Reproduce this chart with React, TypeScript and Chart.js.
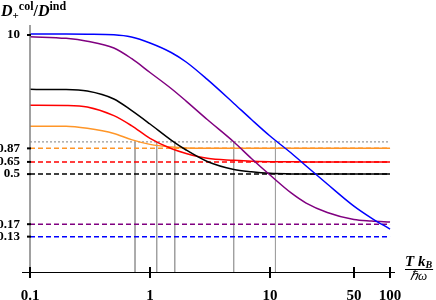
import { useEffect, useRef } from "react";
import { Chart, registerables } from "chart.js";

Chart.register(...registerables);

// Temperature samples  T kB / (hbar omega)
const temps = [0.1, 0.2, 0.3, 0.5, 0.7, 1, 1.5, 2, 3, 5, 7, 10, 15, 20, 30, 50, 70, 100];

// D+^col / D^ind for each curve
const blueRatio = [10.2, 10.2, 10.17, 10.05, 9.58, 8.42, 6.86, 5.59, 3.84, 2.29, 1.62, 1.135, 0.787, 0.595, 0.404, 0.251, 0.194, 0.153];
const purpleRatio = [9.64, 9.3, 8.75, 7.56, 6.03, 4.46, 3.16, 2.41, 1.62, 0.998, 0.7, 0.49, 0.333, 0.268, 0.219, 0.188, 0.182, 0.178];
const blackRatio = [3.1, 3.09, 2.99, 2.52, 1.97, 1.47, 1.04, 0.84, 0.656, 0.552, 0.525, 0.508, 0.502, 0.5, 0.5, 0.5, 0.5, 0.5];
const redRatio = [2.2, 2.19, 2.12, 1.76, 1.42, 1.08, 0.867, 0.78, 0.703, 0.673, 0.659, 0.653, 0.651, 0.65, 0.65, 0.65, 0.65, 0.65];
const orangeRatio = [1.4, 1.4, 1.34, 1.2, 1.05, 0.948, 0.895, 0.877, 0.872, 0.87, 0.87, 0.87, 0.87, 0.87, 0.87, 0.87, 0.87, 0.87];

// High-temperature limits (dashed lines)
const limitValues = [0.87, 0.65, 0.5, 0.17, 0.13];
const limitColors = ["rgb(255,150,40)", "#ff0000", "#000000", "#800080", "#0000ff"];
const limitRange = [0.1, 100];

// Temperatures where each curve crosses 1 (vertical guides)
const crossingTemps = [0.75, 1.137, 1.607, 4.98, 11.1];
const unitLevel = 1;

// Axes
const xTickValues = [0.1, 1, 10, 50, 100];
const yTickValues = [0.13, 0.17, 0.5, 0.65, 0.87, 10];
const xRange = [0.1, 110];
const yRange = [0.0607, 12.4];

const SERIF = "'Liberation Serif', 'Times New Roman', serif";

const decorPlugin = {
  id: "decor",
  afterDatasetsDraw(chart: any) {
    const { ctx, chartArea: a, scales } = chart;
    const xs = scales.x;
    const ys = scales.y;
    ctx.save();
    // y axis
    ctx.strokeStyle = "#808080";
    ctx.lineWidth = 1.5;
    ctx.beginPath();
    ctx.moveTo(a.left, a.top);
    ctx.lineTo(a.left, a.bottom);
    ctx.stroke();
    // x axis
    ctx.strokeStyle = "#000";
    ctx.lineWidth = 1;
    ctx.beginPath();
    ctx.moveTo(a.left - 8, a.bottom + 0.5);
    ctx.lineTo(a.right, a.bottom + 0.5);
    ctx.stroke();
    // x ticks
    ctx.lineWidth = 2;
    for (const v of xTickValues) {
      const px = Math.round(xs.getPixelForValue(v));
      ctx.beginPath();
      ctx.moveTo(px, a.bottom - 5);
      ctx.lineTo(px, a.bottom + 6);
      ctx.stroke();
    }
    // y ticks
    for (const v of yTickValues) {
      const py = ys.getPixelForValue(v);
      ctx.beginPath();
      ctx.moveTo(a.left - 3, py);
      ctx.lineTo(a.left + 1, py);
      ctx.stroke();
    }

    // y title: D+^col / D^ind
    ctx.fillStyle = "#000";
    ctx.textBaseline = "alphabetic";
    ctx.textAlign = "left";
    let cx = 1;
    const base = 16;
    const put = (txt: string, font: string, dy: number) => {
      ctx.font = font;
      ctx.fillText(txt, cx, base + dy);
      cx += ctx.measureText(txt).width;
    };
    put("D", `italic bold 16px ${SERIF}`, 0);
    put("+", `bold 11px ${SERIF}`, 3);
    put("col", `bold 12px ${SERIF}`, -6);
    put("/", `bold 16px ${SERIF}`, 0);
    put("D", `italic bold 16px ${SERIF}`, 0);
    put("ind", `bold 12px ${SERIF}`, -6);

    // x title: T kB / hbar omega
    let tx = 405;
    const tb = 266;
    ctx.font = `italic bold 15px ${SERIF}`;
    ctx.fillText("T", tx, tb);
    tx += ctx.measureText("T ").width;
    ctx.fillText("k", tx, tb);
    tx += ctx.measureText("k").width;
    ctx.font = `italic bold 10px ${SERIF}`;
    ctx.fillText("B", tx, tb + 2);
    tx += ctx.measureText("B").width;
    ctx.lineWidth = 1;
    ctx.beginPath();
    ctx.moveTo(405, 269.5);
    ctx.lineTo(tx + 1, 269.5);
    ctx.stroke();
    ctx.font = `italic 13px ${SERIF}`;
    ctx.textAlign = "center";
    ctx.fillText("\u210F\u03C9", (405 + tx) / 2, 280);
    ctx.restore();
  },
};

export default function App() {
  const canvasRef = useRef<HTMLCanvasElement | null>(null);

  useEffect(() => {
    if (!canvasRef.current) return;
    const curve = (data: number[], color: string) => ({
      data: temps.map((t, i) => ({ x: t, y: data[i] })),
      borderColor: color,
      borderWidth: 1.5,
      pointRadius: 0,
      cubicInterpolationMode: "monotone" as const,
      fill: false,
      order: 0,
    });
    const datasets: any[] = [
      curve(blueRatio, "#0000ff"),
      curve(purpleRatio, "#800080"),
      curve(blackRatio, "#000000"),
      curve(redRatio, "#ff0000"),
      curve(orangeRatio, "rgb(255,150,40)"),
    ];
    limitValues.forEach((v, i) => {
      datasets.push({
        data: limitRange.map((t) => ({ x: t, y: v })),
        borderColor: limitColors[i],
        borderWidth: 1.5,
        borderDash: [5, 3],
        pointRadius: 0,
        fill: false,
        order: 2,
      });
    });
    datasets.push({
      data: limitRange.map((t) => ({ x: t, y: unitLevel })),
      borderColor: "#999999",
      borderWidth: 1.3,
      borderDash: [2, 2],
      pointRadius: 0,
      fill: false,
      order: 3,
    });
    crossingTemps.forEach((t) => {
      datasets.push({
        data: [
          { x: t, y: unitLevel },
          { x: t, y: yRange[0] },
        ],
        borderColor: "#a0a0a0",
        borderWidth: 1,
        pointRadius: 0,
        fill: false,
        order: 3,
      });
    });

    const chart = new Chart(canvasRef.current, {
      type: "line",
      data: { datasets },
      options: {
        animation: false,
        responsive: false,
        devicePixelRatio: 1,
        layout: { padding: { left: 0, right: 41, top: 25, bottom: 0 } },
        plugins: { legend: { display: false }, tooltip: { enabled: false } },
        scales: {
          x: {
            type: "logarithmic",
            min: xRange[0],
            max: xRange[1],
            afterBuildTicks: (s: any) => {
              s.ticks = xTickValues.map((v) => ({ value: v }));
            },
            afterFit: (s: any) => {
              s.height = 28;
            },
            grid: { display: false },
            border: { display: false },
            ticks: {
              autoSkip: false,
              maxRotation: 0,
              padding: 7,
              color: "#000",
              font: { family: SERIF, weight: "bold", size: 15 },
              callback: (v: any) => String(v),
            },
          },
          y: {
            type: "logarithmic",
            min: yRange[0],
            max: yRange[1],
            afterBuildTicks: (s: any) => {
              s.ticks = yTickValues.map((v) => ({ value: v }));
            },
            afterFit: (s: any) => {
              s.width = 30;
            },
            grid: { display: false },
            border: { display: false },
            ticks: {
              autoSkip: false,
              padding: 2,
              color: "#000",
              font: { family: SERIF, weight: "bold", size: 13 },
              callback: (v: any) => String(v),
            },
          },
        },
      },
      plugins: [decorPlugin],
    });
    return () => chart.destroy();
  }, []);

  return (
    <div style={{ position: "fixed", left: 0, top: 0, width: 436, height: 300, background: "#fff" }}>
      <canvas ref={canvasRef} width={436} height={300} />
    </div>
  );
}
